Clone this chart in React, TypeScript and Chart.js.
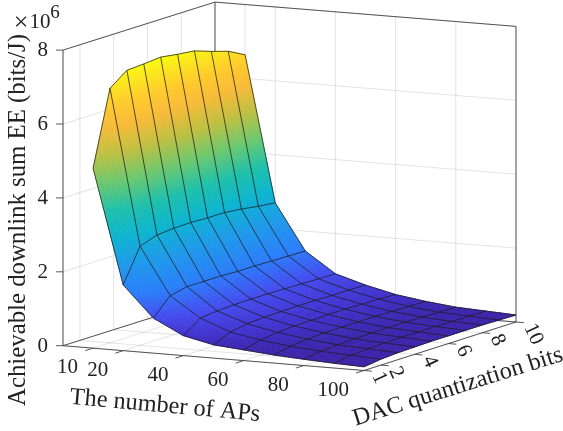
import React, { useEffect, useRef } from "react";
import { Chart, registerables } from "chart.js";

Chart.register(...registerables);

const xValues = [10, 20, 30, 40, 50, 60, 70, 80, 90, 100];
const yValues = [1, 2, 3, 4, 5, 6, 7, 8, 9, 10];
const eeAt10 = [4.87, 6.89, 7.23, 7.26, 7.3, 7.23, 7.18, 7.02, 6.88, 6.64];
const eeAt20 = [1.78, 2.68, 2.84, 2.88, 2.89, 2.87, 2.87, 2.82, 2.75, 2.7];
const eeAt30 = [0.95, 1.41, 1.51, 1.51, 1.51, 1.49, 1.49, 1.48, 1.47, 1.46];
const eeAt40 = [0.54, 0.87, 0.92, 0.94, 0.95, 0.95, 0.94, 0.93, 0.92, 0.91];
const eeAt50 = [0.36, 0.56, 0.64, 0.67, 0.68, 0.69, 0.69, 0.68, 0.68, 0.67];
const eeAt60 = [0.29, 0.41, 0.47, 0.5, 0.51, 0.52, 0.52, 0.51, 0.5, 0.48];
const eeAt70 = [0.22, 0.31, 0.36, 0.38, 0.39, 0.39, 0.39, 0.38, 0.37, 0.36];
const eeAt80 = [0.17, 0.24, 0.27, 0.29, 0.3, 0.3, 0.3, 0.29, 0.28, 0.27];
const eeAt90 = [0.13, 0.2, 0.23, 0.24, 0.25, 0.25, 0.25, 0.24, 0.24, 0.23];
const eeAt100 = [0.1, 0.16, 0.19, 0.2, 0.21, 0.21, 0.21, 0.21, 0.2, 0.19];
const eeRows = [eeAt10, eeAt20, eeAt30, eeAt40, eeAt50, eeAt60, eeAt70, eeAt80, eeAt90, eeAt100];

const xTicks = [10, 20, 40, 60, 80, 100];
const yTicks = [1, 2, 4, 6, 8, 10];
const zTicks = [0, 2, 4, 6, 8];
const xRange = [0, 100];
const yRange = [1, 10];
const zRange = [0, 8];

const xTitle = "The number of APs";
const yTitle = "DAC quantization bits";
const zTitle = "Achievable downlink sum EE (bits/J)";

const parula: [number, number, number, number][] = [
  [0, 60, 35, 165],
  [0.03, 60, 38, 176],
  [0.06, 65, 50, 205],
  [0.12, 68, 75, 238],
  [0.2, 42, 125, 250],
  [0.3, 30, 152, 234],
  [0.4, 12, 180, 208],
  [0.5, 30, 192, 170],
  [0.6, 105, 200, 112],
  [0.7, 188, 192, 66],
  [0.8, 248, 186, 56],
  [0.88, 255, 202, 44],
  [1, 249, 251, 15],
];

function colour(t: number) {
  const v = Math.max(0, Math.min(1, t));
  for (let i = 1; i < parula.length; i++) {
    if (v <= parula[i][0]) {
      const a = parula[i - 1];
      const b = parula[i];
      const f = (v - a[0]) / (b[0] - a[0]);
      const c = [1, 2, 3].map((k) => Math.round(a[k] + (b[k] - a[k]) * f));
      return `rgb(${c[0]},${c[1]},${c[2]})`;
    }
  }
  return "rgb(249,251,15)";
}

// orthographic view of the (x, y, z) box
function project(x: number, y: number, z: number) {
  return {
    x: 63 + 3.01 * x + 16.89 * (y - 1),
    y: 345.7 + 0.248 * x - ((48 + 0.005 * x) * (y - 1)) / 9 - 36.95 * z,
  };
}

const axisColour = "rgb(70,70,70)";
const gridColour = "rgba(38,38,38,0.14)";
const meshColour = "rgba(28,28,28,0.88)";

function seg(a: number[], b: number[], color: string, width: number, order: number) {
  return {
    data: [project(a[0], a[1], a[2]), project(b[0], b[1], b[2])],
    showLine: true,
    borderColor: color,
    borderWidth: width,
    pointRadius: 0,
    tension: 0,
    order,
  };
}

function buildDatasets() {
  const sets: any[] = [];
  const [x0, x1] = xRange;
  const [y0, y1] = yRange;
  const [z0, z1] = zRange;
  // grid
  for (const x of xTicks) {
    sets.push(seg([x, y0, z0], [x, y1, z0], gridColour, 0.9, 3));
    sets.push(seg([x, y1, z0], [x, y1, z1], gridColour, 0.9, 3));
  }
  for (const y of yTicks) {
    sets.push(seg([x0, y, z0], [x1, y, z0], gridColour, 0.9, 3));
    sets.push(seg([x0, y, z0], [x0, y, z1], gridColour, 0.9, 3));
  }
  for (const z of zTicks) {
    sets.push(seg([x0, y0, z], [x0, y1, z], gridColour, 0.9, 3));
    sets.push(seg([x0, y1, z], [x1, y1, z], gridColour, 0.9, 3));
  }
  // box lines behind the surface
  sets.push(seg([x0, y0, z1], [x0, y1, z1], axisColour, 0.9, 3));
  sets.push(seg([x0, y1, z1], [x1, y1, z1], axisColour, 0.9, 3));
  sets.push(seg([x0, y1, z0], [x0, y1, z1], axisColour, 0.9, 3));
  sets.push(seg([x1, y1, z0], [x1, y1, z1], axisColour, 0.9, 3));
  sets.push(seg([x0, y0, z0], [x0, y1, z0], axisColour, 0.9, 3));
  sets.push(seg([x0, y1, z0], [x1, y1, z0], axisColour, 0.9, 3));
  sets.push(seg([x0, y0, z0], [x0, y0, z1], axisColour, 0.9, 3));
  sets.push(seg([x0, y0, z0], [x1, y0, z0], axisColour, 0.9, 3));
  sets.push(seg([x1, y0, z0], [x1, y1, z0], axisColour, 0.9, 3));
  // ticks
  for (const x of xTicks) sets.push(seg([x, y0, z0], [x, y0 - 0.47, z0], axisColour, 0.9, 3));
  for (const y of yTicks) sets.push(seg([x1, y, z0], [x1 + 2.6, y, z0], axisColour, 0.9, 3));
  for (const z of zTicks) sets.push({
    data: [project(x0, y0, z), { x: project(x0, y0, z).x - 7, y: project(x0, y0, z).y }],
    showLine: true, borderColor: axisColour, borderWidth: 0.9, pointRadius: 0, order: 3,
  });
  // surface nodes
  const nodes: any[] = [];
  eeRows.forEach((row, i) =>
    row.forEach((z, j) => nodes.push({ ...project(xValues[i], yValues[j], z), z }))
  );
  sets.push({ id: "surface", data: nodes, showLine: false, pointRadius: 0, order: 2 });
  // mesh
  eeRows.forEach((row, i) => {
    sets.push({
      data: row.map((z, j) => project(xValues[i], yValues[j], z)),
      showLine: true, borderColor: meshColour, borderWidth: 0.85, pointRadius: 0, tension: 0, order: 1,
    });
  });
  yValues.forEach((y, j) => {
    sets.push({
      data: eeRows.map((row, i) => project(xValues[i], y, row[j])),
      showLine: true, borderColor: meshColour, borderWidth: 0.85, pointRadius: 0, tension: 0, order: 1,
    });
  });
  return sets;
}

const surfacePlugin = {
  id: "surfacePlugin",
  afterDatasetDraw(chart: any, args: any) {
    const ds = chart.data.datasets[args.index];
    if (ds.id !== "surface") return;
    const pts = args.meta.data;
    const raw = ds.data;
    const nx = xValues.length;
    const ny = yValues.length;
    const flat = eeRows.flat();
    const zMin = Math.min(...flat);
    const zMax = Math.max(...flat);
    const ctx = chart.ctx;
    ctx.save();
    ctx.lineWidth = 0.7;
    const node = (i: number, j: number) => i * ny + j;
    for (let i = 0; i < nx - 1; i++) {
      for (let j = ny - 2; j >= 0; j--) {
        const A = node(i, j), B = node(i + 1, j), C = node(i + 1, j + 1), D = node(i, j + 1);
        const su = i === 0 ? 40 : i < 3 ? 16 : 6;
        const sv = 6;
        const at = (u: number, v: number) => {
          const w = [(1 - u) * (1 - v), u * (1 - v), u * v, (1 - u) * v];
          const ids = [A, B, C, D];
          let px = 0, py = 0, pz = 0;
          ids.forEach((id, k) => {
            px += w[k] * pts[id].x;
            py += w[k] * pts[id].y;
            pz += w[k] * raw[id].z;
          });
          return { px, py, pz };
        };
        for (let a = 0; a < su; a++) {
          for (let b = sv - 1; b >= 0; b--) {
            const p = at(a / su, b / sv);
            const q = at((a + 1) / su, b / sv);
            const r = at((a + 1) / su, (b + 1) / sv);
            const s = at(a / su, (b + 1) / sv);
            const c = colour(((p.pz + q.pz + r.pz + s.pz) / 4 - zMin) / (zMax - zMin));
            ctx.fillStyle = c;
            ctx.strokeStyle = c;
            ctx.beginPath();
            ctx.moveTo(p.px, p.py);
            ctx.lineTo(q.px, q.py);
            ctx.lineTo(r.px, r.py);
            ctx.lineTo(s.px, s.py);
            ctx.closePath();
            ctx.fill();
            ctx.stroke();
          }
        }
      }
    }
    ctx.restore();
  },
};

function drawText(ctx: any, text: string, x: number, y: number, size: number, angle = 0, align = "center") {
  ctx.save();
  ctx.translate(x, y);
  ctx.rotate((angle * Math.PI) / 180);
  ctx.font = `${size}px "Liberation Serif"`;
  ctx.textAlign = align;
  ctx.textBaseline = "middle";
  ctx.fillStyle = "rgb(34,34,34)";
  ctx.fillText(text, 0, 0);
  ctx.restore();
}

const textPlugin = {
  id: "textPlugin",
  afterDraw(chart: any) {
    const ctx = chart.ctx;
    const sx = chart.scales.x;
    const sy = chart.scales.y;
    const at = (x: number, y: number, z: number) => {
      const p = project(x, y, z);
      return { x: sx.getPixelForValue(p.x), y: sy.getPixelForValue(p.y) };
    };
    for (const x of xTicks) {
      const p = at(x, yRange[0], 0);
      drawText(ctx, String(x), p.x - 15, p.y + 19.5, 21, 0, "right");
    }
    for (const y of yTicks) {
      const p = at(xRange[1], y, 0);
      drawText(ctx, String(y), p.x + 12.9, p.y + 2.7, 21, 65, "left");
    }
    for (const z of zTicks) {
      const p = at(0, yRange[0], z);
      drawText(ctx, String(z), p.x - 15, p.y + 0.5, 21, 0, "right");
    }
    drawText(ctx, xTitle, 165, 406, 24.3, 5.2);
    drawText(ctx, yTitle, 458, 387, 24.3, -17.4);
    drawText(ctx, zTitle, 18.5, 220, 24.8, -90);
    drawText(ctx, "×", 21, 23, 26);
    drawText(ctx, "10", 40, 22, 21);
    drawText(ctx, "6", 55, 13.5, 19);
  },
};

export default function App() {
  const ref = useRef<HTMLCanvasElement>(null);
  useEffect(() => {
    const chart = new Chart(ref.current as HTMLCanvasElement, {
      type: "scatter",
      data: { datasets: buildDatasets() },
      options: {
        animation: false,
        responsive: false,
        layout: { padding: 0 },
        plugins: { legend: { display: false }, tooltip: { enabled: false } },
        scales: {
          x: { type: "linear", min: 0, max: 563, display: false },
          y: { type: "linear", min: 0, max: 431, reverse: true, display: false },
        },
      },
      plugins: [surfacePlugin, textPlugin],
    } as any);
    return () => chart.destroy();
  }, []);
  return (
    <div style={{ position: "absolute", left: 0, top: 0, width: 563, height: 431, background: "#fff" }}>
      <canvas ref={ref} width={563} height={431} style={{ display: "block" }} />
    </div>
  );
}
